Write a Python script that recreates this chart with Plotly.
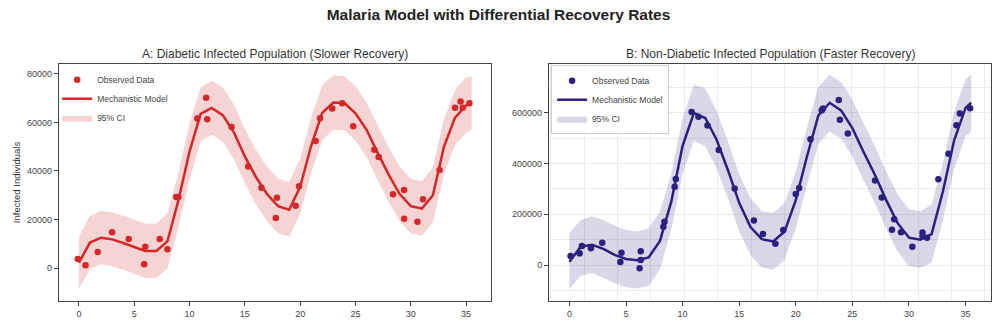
import plotly.graph_objects as go
from plotly.subplots import make_subplots

dia_obs_t = [-0.1, 0.6, 1.7, 3.0, 4.5, 5.9, 6.0, 7.3, 8.0, 8.8, 9.0, 10.7, 11.5, 11.6, 13.8,
             15.3, 16.5, 17.8, 17.9, 19.6, 19.9, 21.4, 21.8, 22.9, 23.8, 24.8, 26.7, 27.1,
             28.4, 29.4, 29.4, 30.6, 31.1, 32.6, 34.0, 34.5, 34.7, 35.3]
dia_obs_y = [3700, 1100, 6600, 14700, 12000, 1600, 8800, 12000, 7700, 29300, 29300, 61600,
             70200, 61300, 58100, 41800, 33100, 20600, 29000, 25700, 33700, 52400, 61700,
             65800, 67900, 58400, 48800, 45800, 30400, 32200, 20300, 19100, 28300, 40400,
             66100, 68600, 66100, 67900]

non_obs_t = [0.1, 0.9, 1.1, 1.9, 2.9, 4.5, 4.6, 6.2, 6.3, 6.3, 8.3, 8.4, 9.3, 9.4, 10.8,
             11.4, 12.2, 13.2, 14.6, 16.3, 17.1, 18.2, 18.9, 20.0, 20.3, 21.3, 22.3, 22.4,
             23.8, 23.9, 24.6, 27.0, 27.6, 28.5, 28.7, 29.3, 30.3, 31.2, 31.2, 31.6, 32.6,
             33.5, 34.2, 34.5, 35.4]
non_obs_y = [35500, 46000, 75000, 66000, 88000, 12000, 48500, -13000, 20000, 54000, 151000,
             171000, 309000, 339000, 604000, 585000, 550000, 454000, 302000, 176000, 122000,
             84000, 138000, 280000, 304000, 496000, 611000, 617000, 651000, 573000, 519000,
             333000, 266000, 139000, 181000, 129000, 72000, 128000, 113000, 108000, 338000,
             439000, 551000, 598000, 618000]

# ---- model trajectories ----
model_t = [0, 1, 2, 3, 4, 5, 6, 7, 8, 9, 10, 11, 12, 13, 14, 15, 16, 17, 18, 19, 20, 21,
           22, 23, 24, 25, 26, 27, 28, 29, 30, 31, 32, 33, 34, 35, 35.5]

dia_model = [2200, 10500, 12500, 11800, 10300, 8700, 7000, 7000, 11000, 28000, 48000,
             63500, 66000, 63000, 56000, 46000, 37500, 30500, 25500, 24000, 33500, 50500,
             64000, 68200, 68000, 63800, 57000, 47500, 38500, 30500, 25500, 24500, 30000,
             50000, 62000, 67000, 68000]
dia_upper = [12900, 21500, 23500, 23000, 21500, 19800, 18200, 18300, 22500, 39500, 59500,
             74500, 77200, 74500, 67500, 57500, 48800, 41800, 36800, 35500, 45000, 62000,
             75500, 79500, 79200, 75000, 68200, 58800, 49800, 41800, 36800, 35800, 41500,
             61500, 73500, 78500, 79000]
dia_lower = [-8700, -400, 1500, 700, -800, -2400, -4100, -4100, -200, 16800, 36500, 52300,
             55000, 52000, 45000, 35000, 26300, 19300, 14300, 13000, 22300, 39300, 52800,
             57000, 56800, 52600, 45800, 36300, 27300, 19300, 14300, 13300, 18800, 38800,
             50800, 55800, 57000]

non_model = [13000, 72000, 80000, 64000, 40000, 24000, 19000, 30000, 95000, 250000, 470000,
             600000, 580000, 495000, 375000, 245000, 150000, 102000, 93000, 131000, 256000,
             430000, 590000, 640000, 610000, 540000, 445000, 355000, 255000, 165000, 108000,
             100000, 122000, 290000, 493000, 620000, 640000]
non_upper = [126000, 178000, 192000, 178000, 155000, 138000, 132000, 145000, 210000, 360000,
             580000, 712000, 695000, 610000, 488000, 358000, 262000, 212000, 205000, 245000,
             368000, 545000, 702000, 752000, 722000, 652000, 558000, 468000, 368000, 278000,
             220000, 212000, 238000, 402000, 605000, 732000, 752000]
non_lower = [-95000, -42000, -32000, -50000, -72000, -88000, -93000, -82000, -18000, 140000,
             360000, 490000, 468000, 383000, 263000, 133000, 38000, -10000, -19000, 19000,
             144000, 318000, 478000, 528000, 498000, 428000, 333000, 243000, 143000, 53000,
             -4000, -12000, 10000, 178000, 381000, 508000, 528000]

RED = "#d62728"
BLUE = "#2b2080"
FONT = "Liberation Sans"

fig = make_subplots(rows=1, cols=2,
                    subplot_titles=("A: Diabetic Infected Population (Slower Recovery)",
                                    "B: Non-Diabetic Infected Population (Faster Recovery)"))


def add_panel(col, legend, color, fill, obs_t, obs_y, upper, lower, model):
    fig.add_trace(go.Scatter(x=model_t, y=upper, mode="lines", line=dict(width=0),
                             showlegend=False, hoverinfo="skip", legend=legend),
                  row=1, col=col)
    fig.add_trace(go.Scatter(x=model_t, y=lower, mode="lines", line=dict(width=0),
                             fill="tonexty", fillcolor=fill, name="95% CI",
                             legend=legend, legendrank=3), row=1, col=col)
    fig.add_trace(go.Scatter(x=model_t, y=model, mode="lines", line=dict(color=color, width=2.5),
                             name="Mechanistic Model", legend=legend, legendrank=2),
                  row=1, col=col)
    fig.add_trace(go.Scatter(x=obs_t, y=obs_y, mode="markers",
                             marker=dict(color=color, size=6.5), name="Observed Data",
                             legend=legend, legendrank=1), row=1, col=col)


add_panel(1, "legend", RED, "rgba(214,39,40,0.2)", dia_obs_t, dia_obs_y,
          dia_upper, dia_lower, dia_model)
add_panel(2, "legend2", BLUE, "rgba(43,32,128,0.18)", non_obs_t, non_obs_y,
          non_upper, non_lower, non_model)

axis_common = dict(showline=True, linecolor="#444", linewidth=1.2, mirror=True,
                   ticks="outside", ticklen=4, tickcolor="#444", tickwidth=1,
                   tickfont=dict(size=9, color="#444"), zeroline=False, automargin=False)

fig.update_xaxes(range=[-1.8, 37.25], dtick=5, tick0=0, **axis_common)
fig.update_yaxes(tickformat="d", **axis_common)
fig.update_xaxes(domain=[0, 0.4635], showgrid=False, row=1, col=1)
fig.update_yaxes(range=[-13600, 84100], dtick=20000, showgrid=False,
                 title=dict(text="Infected Individuals", font=dict(size=9.5, color="#333"),
                            standoff=4), row=1, col=1)
fig.update_xaxes(domain=[0.5258, 1], showgrid=False,
                 minor=dict(showgrid=True, gridcolor="#ebebeb", gridwidth=1, tick0=1.3, dtick=2.95),
                 row=1, col=2)
fig.update_yaxes(range=[-142000, 793000], dtick=200000, showgrid=True, gridcolor="#ebebeb",
                 minor=dict(showgrid=True, gridcolor="#ebebeb", dtick=100000),
                 row=1, col=2)

for ann in fig.layout.annotations:
    ann.font = dict(size=12, color="#333", family=FONT)
    ann.yshift = 1
fig.layout.annotations[0].x = 0.4635 / 2
fig.layout.annotations[1].x = (0.5258 + 1) / 2

legend_common = dict(font=dict(size=8.5, color="#444"), traceorder="normal",
                     xanchor="left", yanchor="top", itemwidth=30, tracegroupgap=0)

fig.update_layout(
    width=997, height=320,
    paper_bgcolor="white", plot_bgcolor="white",
    font=dict(family=FONT, color="#333"),
    title=dict(text="<b>Malaria Model with Differential Recovery Rates</b>",
               x=0.5, xanchor="center", y=0.955, yanchor="middle",
               font=dict(size=15.5, color="#222", family=FONT)),
    margin=dict(l=59, r=6, t=64, b=19),
    legend=dict(x=-0.002, y=0.995, bgcolor="rgba(255,255,255,0)", **legend_common),
    legend2=dict(x=0.528, y=0.995, bgcolor="rgba(255,255,255,0.85)",
                 bordercolor="#ccc", borderwidth=1, **legend_common),
)

# page body has a default 8px margin; drop it so the figure sits at the window origin
fig.write_html("out.html", config={"displayModeBar": False},
               post_script="document.body.style.margin='0';")
